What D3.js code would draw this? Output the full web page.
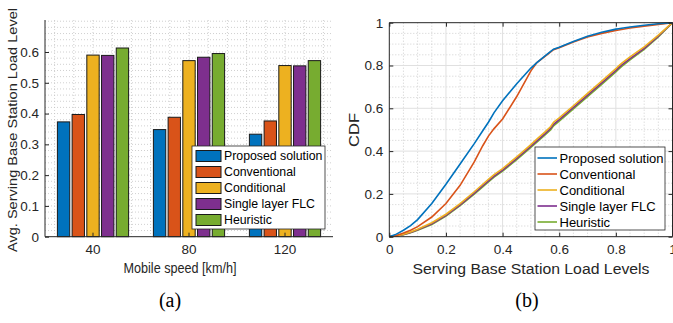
<!DOCTYPE html>
<html><head><meta charset="utf-8">
<script src="https://cdn.jsdelivr.net/npm/d3@7"></script>
<style>
body{margin:0;background:#fff;}
svg{display:block;font-family:"Liberation Sans",Arial,sans-serif;}
</style></head>
<body><svg id="c" width="673" height="323"></svg>
<script>
// ---------- DATA ----------
const speeds = ["40", "80", "120"];
const seriesNames = ["Proposed solution", "Conventional", "Conditional", "Single layer FLC", "Heuristic"];
const colors = ["#0072BD", "#D95319", "#EDB120", "#7E2F8E", "#77AC30"];
const proposedLoad = [0.373, 0.348, 0.333];
const conventionalLoad = [0.397, 0.388, 0.376];
const conditionalLoad = [0.590, 0.572, 0.556];
const singleFlcLoad = [0.589, 0.583, 0.555];
const heuristicLoad = [0.613, 0.595, 0.572];
const barYTicks = [0, 0.1, 0.2, 0.3, 0.4, 0.5, 0.6];

const cdfX = [0, 0.025, 0.05, 0.075, 0.1, 0.15, 0.2, 0.25, 0.3, 0.33, 0.35, 0.37, 0.4, 0.45, 0.5, 0.52, 0.55, 0.57, 0.58, 0.6, 0.65, 0.7, 0.75, 0.8, 0.81, 0.82, 0.85, 0.9, 0.95, 1.0];
const cdfProposed = [0, 0.012, 0.03, 0.052, 0.08, 0.155, 0.245, 0.34, 0.435, 0.495, 0.535, 0.58, 0.635, 0.715, 0.788, 0.812, 0.845, 0.866, 0.876, 0.885, 0.912, 0.937, 0.955, 0.970, 0.972, 0.974, 0.980, 0.988, 0.995, 1.0];
const cdfConventional = [0, 0.006, 0.017, 0.03, 0.047, 0.092, 0.155, 0.24, 0.35, 0.425, 0.47, 0.505, 0.55, 0.655, 0.775, 0.812, 0.843, 0.864, 0.874, 0.883, 0.91, 0.933, 0.95, 0.964, 0.966, 0.968, 0.975, 0.984, 0.992, 1.0];
const cdfConditional = [0, 0.004, 0.012, 0.022, 0.035, 0.065, 0.105, 0.155, 0.21, 0.245, 0.268, 0.29, 0.318, 0.373, 0.43, 0.455, 0.49, 0.515, 0.535, 0.555, 0.612, 0.67, 0.727, 0.785, 0.798, 0.81, 0.84, 0.887, 0.942, 1.0];
const cdfSingleFlc = [0, 0.003, 0.01, 0.02, 0.032, 0.06, 0.1, 0.149, 0.203, 0.238, 0.261, 0.283, 0.311, 0.366, 0.423, 0.447, 0.482, 0.507, 0.525, 0.547, 0.604, 0.662, 0.719, 0.777, 0.79, 0.802, 0.832, 0.88, 0.937, 1.0];
const cdfHeuristic = [0, 0.003, 0.009, 0.018, 0.03, 0.057, 0.096, 0.145, 0.199, 0.233, 0.256, 0.278, 0.306, 0.36, 0.417, 0.441, 0.476, 0.5, 0.518, 0.54, 0.597, 0.655, 0.712, 0.77, 0.783, 0.795, 0.826, 0.875, 0.934, 1.0];
const cdfTicks = [0, 0.2, 0.4, 0.6, 0.8, 1];

// ---------- SETUP ----------
const svg = d3.select("#c");
const axisColor = "#262626";
const minorColor = "#c4c4c4";
const majorColor = "#e0e0e0";
const barValues = [proposedLoad, conventionalLoad, conditionalLoad, singleFlcLoad, heuristicLoad];

// ---------- LEFT: bar chart ----------
const L = {left: 45, right: 333, top: 20, bottom: 236.7};
const xCat = d3.scaleBand().domain(speeds).range([L.left, L.right]).padding(0);
const xIdx = d3.scaleLinear().domain([0.5, 3.5]).range([L.left, L.right]);
const xSer = d3.scaleBand().domain(seriesNames).range([-35.6, 35.6]).paddingInner(0.16);
const yBar = d3.scaleLinear().domain([0, 0.704]).range([L.bottom, L.top]);

const gL = svg.append("g");
gL.selectAll("line.hy").data(d3.range(1, 36).map(i => i * 0.02)).join("line")
  .attr("x1", L.left).attr("x2", L.right)
  .attr("y1", d => yBar(d)).attr("y2", d => yBar(d))
  .attr("stroke", minorColor).attr("stroke-width", 0.8).attr("stroke-dasharray", "1,2");
gL.selectAll("line.vx").data(d3.range(0, 15).map(i => 0.6 + i * 0.2)).join("line")
  .attr("x1", d => xIdx(d)).attr("x2", d => xIdx(d))
  .attr("y1", L.top).attr("y2", L.bottom)
  .attr("stroke", minorColor).attr("stroke-width", 0.8).attr("stroke-dasharray", "1,2");

seriesNames.forEach((s, si) => {
  gL.selectAll("rect.s" + si).data(speeds).join("rect")
    .attr("x", (d) => xCat(d) + xCat.bandwidth() / 2 + xSer(s))
    .attr("width", xSer.bandwidth())
    .attr("y", (d, i) => yBar(barValues[si][i]))
    .attr("height", (d, i) => yBar(0) - yBar(barValues[si][i]))
    .attr("fill", colors[si]).attr("stroke", "#1a1a1a").attr("stroke-width", 1);
});

const yAxisL = d3.axisLeft(yBar).tickValues(barYTicks).tickSize(-4).tickPadding(6).tickFormat(d => d === 0 ? "0" : d3.format(".1f")(d));
const gyL = gL.append("g").attr("transform", `translate(${L.left},0)`).call(yAxisL);
const xAxisL = d3.axisBottom(xCat).tickSize(-4).tickPadding(8);
const gxL = gL.append("g").attr("transform", `translate(0,${L.bottom})`).call(xAxisL);
[gyL, gxL].forEach(g => {
  g.select(".domain").attr("stroke", axisColor).attr("stroke-width", 1);
  g.selectAll(".tick line").attr("stroke", axisColor);
  g.selectAll(".tick text").attr("fill", axisColor).attr("font-size", 13.5).attr("font-family", "Liberation Sans, Arial, sans-serif");
});
gyL.select(".domain").attr("d", `M0,${L.bottom}V${L.top}`);
gxL.select(".domain").attr("d", `M${L.left},0H${L.right}`);

gL.append("text").attr("transform", `translate(13,130) rotate(-90)`)
  .attr("text-anchor", "middle").attr("dominant-baseline", "middle")
  .attr("font-size", 13.5).attr("textLength", 244).attr("lengthAdjust", "spacingAndGlyphs")
  .attr("fill", axisColor).text("Avg. Serving Base Station Load Level");
gL.append("text").attr("x", 180).attr("y", 273).attr("text-anchor", "middle")
  .attr("font-size", 14).attr("textLength", 113).attr("lengthAdjust", "spacingAndGlyphs")
  .attr("fill", axisColor).text("Mobile speed [km/h]");

const lgL = gL.append("g");
lgL.append("rect").attr("x", 192).attr("y", 146).attr("width", 133).attr("height", 83)
  .attr("fill", "#fff").attr("stroke", axisColor).attr("stroke-width", 0.8);
seriesNames.forEach((s, i) => {
  const cy = 156 + i * 16;
  lgL.append("rect").attr("x", 196).attr("y", cy - 5.5).attr("width", 25).attr("height", 11)
    .attr("fill", colors[i]).attr("stroke", "#1a1a1a").attr("stroke-width", 1);
  lgL.append("text").attr("x", 224).attr("y", cy).attr("dominant-baseline", "central")
    .attr("font-size", 12.3).attr("fill", "#000").text(s);
});

// ---------- RIGHT: CDF ----------
const R = {left: 389.3, right: 672.5, top: 22.7, bottom: 236.7};
const xC = d3.scaleLinear().domain([0, 1]).range([R.left, R.right]);
const yC = d3.scaleLinear().domain([0, 1]).range([R.bottom, R.top]);
const gR = svg.append("g");
const minorT = d3.range(1, 20).map(i => i * 0.05).filter(v => Math.abs(v * 5 - Math.round(v * 5)) > 1e-6);
gR.selectAll("line.mx").data(minorT).join("line")
  .attr("x1", d => xC(d)).attr("x2", d => xC(d)).attr("y1", R.top).attr("y2", R.bottom)
  .attr("stroke", minorColor).attr("stroke-width", 0.8).attr("stroke-dasharray", "1,2");
gR.selectAll("line.my").data(minorT).join("line")
  .attr("y1", d => yC(d)).attr("y2", d => yC(d)).attr("x1", R.left).attr("x2", R.right)
  .attr("stroke", minorColor).attr("stroke-width", 0.8).attr("stroke-dasharray", "1,2");
const majorT = cdfTicks.slice(1, -1);
gR.selectAll("line.Mx").data(majorT).join("line")
  .attr("x1", d => xC(d)).attr("x2", d => xC(d)).attr("y1", R.top).attr("y2", R.bottom)
  .attr("stroke", majorColor).attr("stroke-width", 1);
gR.selectAll("line.My").data(majorT).join("line")
  .attr("y1", d => yC(d)).attr("y2", d => yC(d)).attr("x1", R.left).attr("x2", R.right)
  .attr("stroke", majorColor).attr("stroke-width", 1);

const cdfSeries = [cdfProposed, cdfConventional, cdfConditional, cdfSingleFlc, cdfHeuristic];
const line = d3.line().x(d => xC(d[0])).y(d => yC(d[1]));
[4, 3, 2, 1, 0].forEach(si => {
  gR.append("path").datum(cdfX.map((x, i) => [x, cdfSeries[si][i]]))
    .attr("d", line).attr("fill", "none").attr("stroke", colors[si]).attr("stroke-width", 1.6);
});

const fmt = d => (d === 0 || d === 1) ? String(d) : d3.format(".1f")(d);
const gxR = gR.append("g").attr("transform", `translate(0,${R.bottom})`)
  .call(d3.axisBottom(xC).tickValues(cdfTicks).tickSize(-4).tickPadding(8).tickFormat(fmt));
const gyR = gR.append("g").attr("transform", `translate(${R.left},0)`)
  .call(d3.axisLeft(yC).tickValues(cdfTicks).tickSize(-4).tickPadding(6).tickFormat(fmt));
const gtR = gR.append("g").attr("transform", `translate(0,${R.top})`)
  .call(d3.axisTop(xC).tickValues(cdfTicks).tickSize(-4).tickFormat(""));
const grR = gR.append("g").attr("transform", `translate(${R.right},0)`)
  .call(d3.axisRight(yC).tickValues(cdfTicks).tickSize(-4).tickFormat(""));
[gxR, gyR, gtR, grR].forEach(g => {
  g.select(".domain").attr("stroke", axisColor).attr("stroke-width", 1);
  g.selectAll(".tick line").attr("stroke", axisColor);
  g.selectAll(".tick text").attr("fill", axisColor).attr("font-size", 13.5).attr("font-family", "Liberation Sans, Arial, sans-serif");
});
gxR.select(".domain").attr("d", `M${R.left},0H${R.right}`);
gyR.select(".domain").attr("d", `M0,${R.bottom}V${R.top}`);
gtR.select(".domain").attr("d", `M${R.left},0H${R.right}`);
grR.select(".domain").attr("d", `M0,${R.bottom}V${R.top}`);

gR.append("text").attr("transform", `translate(355,130) rotate(-90)`)
  .attr("text-anchor", "middle").attr("dominant-baseline", "middle")
  .attr("font-size", 15).attr("textLength", 34).attr("lengthAdjust", "spacingAndGlyphs")
  .attr("fill", axisColor).text("CDF");
gR.append("text").attr("x", 531).attr("y", 273.5).attr("text-anchor", "middle")
  .attr("font-size", 15.5).attr("textLength", 237).attr("lengthAdjust", "spacingAndGlyphs")
  .attr("fill", axisColor).text("Serving Base Station Load Levels");

const lgR = gR.append("g");
lgR.append("rect").attr("x", 535).attr("y", 147).attr("width", 130).attr("height", 83)
  .attr("fill", "#fff").attr("stroke", axisColor).attr("stroke-width", 0.8);
seriesNames.forEach((s, i) => {
  const cy = 158 + i * 16;
  lgR.append("line").attr("x1", 537.5).attr("x2", 557).attr("y1", cy).attr("y2", cy)
    .attr("stroke", colors[i]).attr("stroke-width", 1.6);
  lgR.append("text").attr("x", 559.5).attr("y", cy).attr("dominant-baseline", "central")
    .attr("font-size", 13).attr("fill", "#000").text(s);
});

// captions
svg.append("text").attr("x", 170).attr("y", 307).attr("text-anchor", "middle")
  .attr("font-family", "Liberation Serif, Times New Roman, serif").attr("font-size", 20).attr("fill", "#000").text("(a)");
svg.append("text").attr("x", 527).attr("y", 307).attr("text-anchor", "middle")
  .attr("font-family", "Liberation Serif, Times New Roman, serif").attr("font-size", 20).attr("fill", "#000").text("(b)");
</script></body></html>
